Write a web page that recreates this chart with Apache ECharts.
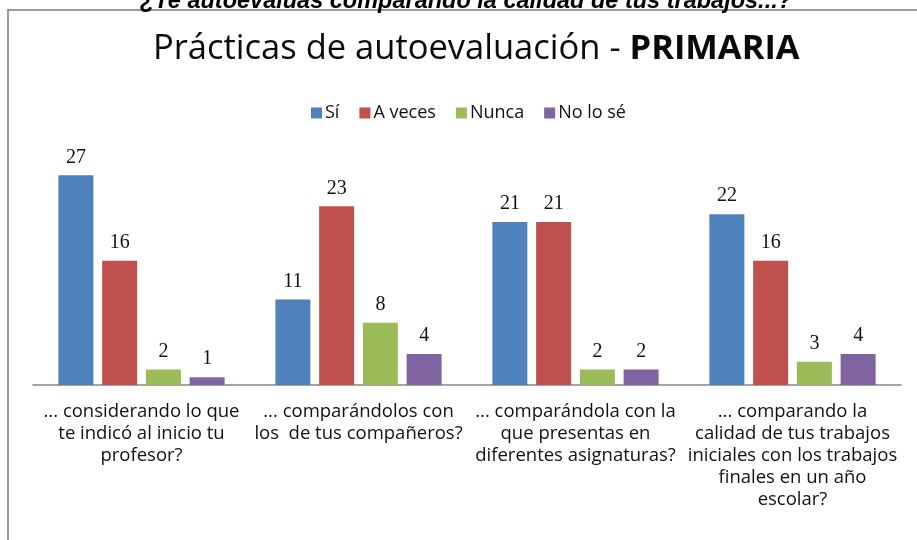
<!DOCTYPE html>
<html>
<head>
<meta charset="utf-8">
<script src="https://cdn.jsdelivr.net/npm/echarts@6/dist/echarts.min.js"></script>
<style>
  html, body { margin: 0; padding: 0; background: #fff; }
  #main { width: 917px; height: 540px; }
</style>
</head>
<body>
<div id="main"></div>
<script>
// categorias (preguntas) y valores por respuesta
const categorias = [
  '... considerando lo que\nte indicó al inicio tu\nprofesor?',
  '... comparándolos con\nlos  de tus compañeros?',
  '... comparándola con la\nque presentas en\ndiferentes asignaturas?',
  '... comparando la\ncalidad de tus trabajos\niniciales con los trabajos\nfinales en un año\nescolar?'
];
const si = [27, 11, 21, 22];
const aVeces = [16, 23, 21, 16];
const nunca = [2, 8, 2, 3];
const noLoSe = [1, 4, 2, 4];

const nombres = ['Sí', 'A veces', 'Nunca', 'No lo sé'];
const colores = ['#4F81BD', '#C0504D', '#9BBB59', '#8064A2'];
const valores = [si, aVeces, nunca, noLoSe];

const myChart = echarts.init(document.getElementById('main'));

const series = nombres.map(function (n, i) {
  return {
    name: n,
    type: 'bar',
    data: valores[i],
    barWidth: 35,
    barGap: '25%',
    itemStyle: { color: colores[i] },
    label: {
      show: true,
      position: 'top',
      distance: 8,
      color: '#111',
      fontFamily: 'Liberation Serif',
      fontSize: 20
    }
  };
});

const option = {
  animation: false,
  backgroundColor: '#fff',
  graphic: [
    {
      // marco del grafico
      type: 'rect',
      z: 0,
      shape: { x: 8, y: 10, width: 1000, height: 600 },
      style: { fill: 'none', stroke: '#9a9a9a', lineWidth: 2 }
    },
    {
      // texto cortado de arriba
      type: 'text',
      z: 1,
      x: 466,
      y: 13,
      style: {
        text: '¿Te autoevaluas comparando la calidad de tus trabajos...?',
        fontFamily: 'Liberation Sans',
        fontWeight: 'bold',
        fontStyle: 'italic',
        fontSize: 23.5,
        fill: '#000',
        align: 'center',
        verticalAlign: 'bottom'
      }
    }
  ],
  title: {
    text: '{a|Prácticas de autoevaluación - }{b|PRIMARIA}',
    left: 148,
    top: 27,
    textStyle: {
      rich: {
        a: { fontFamily: 'Open Sans', fontSize: 34.5, fontWeight: 'normal', color: '#0a0a0a' },
        b: { fontFamily: 'Open Sans', fontSize: 34.5, fontWeight: 'bold', color: '#0a0a0a' }
      }
    }
  },
  legend: {
    left: 306,
    top: 99,
    itemWidth: 11,
    itemHeight: 11,
    itemGap: 20,
    icon: 'rect',
    data: nombres,
    textStyle: { fontFamily: 'Open Sans', fontSize: 18, color: '#111', padding: [0, 0, 0, -2] }
  },
  grid: { left: 33, right: 16, top: 152, bottom: 155, containLabel: false },
  xAxis: {
    type: 'category',
    data: categorias,
    axisLine: { lineStyle: { color: '#868686', width: 1.5 } },
    axisTick: { show: false },
    axisLabel: {
      interval: 0,
      margin: 16,
      fontFamily: 'Open Sans',
      fontSize: 18.5,
      lineHeight: 22,
      color: '#111',
      align: 'center'
    }
  },
  yAxis: {
    type: 'value',
    min: 0,
    max: 30,
    interval: 5,
    show: false,
    splitLine: { show: false }
  },
  series: series
};

myChart.setOption(option);
</script>
</body>
</html>
